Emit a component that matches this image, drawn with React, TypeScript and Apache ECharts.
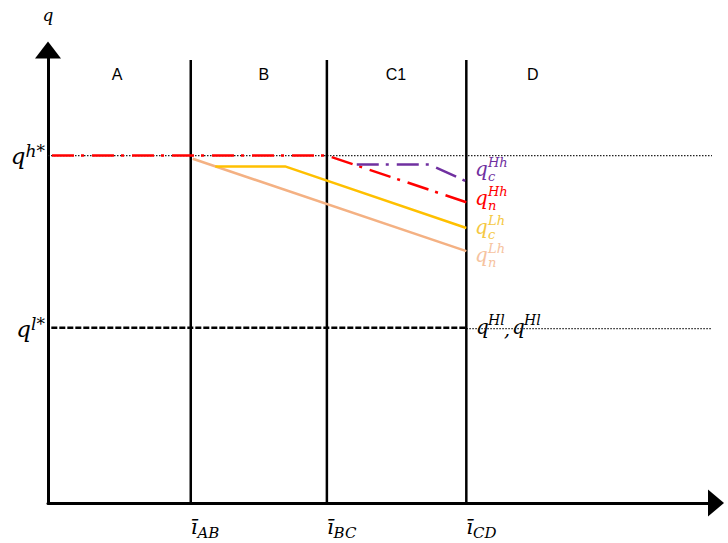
import React, { useEffect, useRef } from "react";
import * as echarts from "echarts";

// Notional data units: x 0..100, y 0..100
const xTicks = [21.5, 42, 63];
const xTickSubs = ["AB", "BC", "CD"];
const yTicks = [76.7, 38.5];
const yTickSups = ["h*", "l*"];
const regionNames = ["A", "B", "C1", "D"];
const regionX = [10.4, 32.5, 52.4, 73.0];
const regionY = 94.5;
const boundaryTop = 97.8;

const qnHh = [[0.6, 76.7], [42, 76.7], [63, 66.4]];
const qcHh = [[46.5, 74.7], [57.5, 74.7], [63, 71.0]];
const qcLh = [[25.2, 74.3], [35.7, 74.3], [63, 60.7]];
const qnLh = [[21.8, 76.0], [63, 55.6]];
const qHl = [[0.5, 38.7], [63, 38.7]];
const refHigh = [[0, 76.7], [100, 76.7]];
const refLow = [[63, 38.5], [100, 38.5]];

const rightLabels = [
  { sup: "Hh", sub: "c", color: "#7030a0" },
  { sup: "Hh", sub: "n", color: "#ff0000" },
  { sup: "Lh", sub: "c", color: "#f5c842" },
  { sup: "Lh", sub: "n", color: "#f6c3a0" },
];

const SERIF = '"DejaVu Serif", serif';
const font = (s: number) => `italic ${s}px ${SERIF}`;

function txt(x: number, y: number, text: string, size: number, color: string) {
  return {
    type: "text",
    x,
    y,
    silent: true,
    style: { text, font: font(size), fill: color, align: "left", verticalAlign: "middle" },
  };
}

function buildGraphics(toPx: (p: number[]) => number[]) {
  const els: any[] = [];
  const qy = [169, 198, 227, 255];
  rightLabels.forEach((l, i) => {
    els.push(txt(475, qy[i], "q", 20, l.color));
    els.push(txt(488, qy[i] - 7, l.sup, 13, l.color));
    els.push(txt(488, qy[i] + 7, l.sub, 13, l.color));
  });
  els.push(txt(476, 326.5, "q", 20, "#000"));
  els.push(txt(488, 320, "Hl", 14, "#000"));
  els.push(txt(504, 329, ",", 19, "#000"));
  els.push(txt(512, 326.5, "q", 20, "#000"));
  els.push(txt(524, 320, "Hl", 14, "#000"));
  regionNames.forEach((n, i) => {
    const [px, py] = toPx([regionX[i], regionY]);
    els.push({
      type: "text",
      x: px,
      y: py,
      silent: true,
      style: {
        text: n,
        font: '16px "Liberation Sans", Arial, sans-serif',
        fill: "#000",
        align: "center",
        verticalAlign: "middle",
      },
    });
  });
  return els;
}

function lineSeries(name: string, data: number[][], color: string, width: number, type: any, z: number) {
  return {
    name,
    type: "line",
    data,
    showSymbol: false,
    symbol: "none",
    silent: true,
    z,
    lineStyle: { color, width, type },
  };
}

export default function App() {
  const ref = useRef<HTMLDivElement>(null);
  useEffect(() => {
    if (!ref.current) return;
    const chart = echarts.init(ref.current, undefined, { renderer: "svg" });
    const boundaries = xTicks.map((x, i) =>
      lineSeries("b" + i, [[x, 0], [x, boundaryTop]], "#000", 2.5, "solid", 3)
    );
    chart.setOption({
      animation: false,
      grid: { left: 48, right: 16, top: 50, bottom: 38 },
      xAxis: {
        type: "value",
        min: 0,
        max: 100,
        splitLine: { show: false },
        axisTick: { show: false },
        axisLine: {
          show: true,
          lineStyle: { color: "#000", width: 3 },
          symbol: ["none", "triangle"],
          symbolSize: [27, 16],
          symbolOffset: [0, 4],
        },
        axisLabel: {
          show: true,
          customValues: xTicks,
          align: "left",
          margin: 13,
          formatter: (v: number) => {
            const i = xTicks.indexOf(v);
            return `{i|ī}{s|${xTickSubs[i] ?? ""}}`;
          },
          rich: {
            i: {
              fontFamily: SERIF,
              fontStyle: "italic",
              fontSize: 21,
              lineHeight: 24,
              padding: [0, 0, 6, 0],
              verticalAlign: "top",
              color: "#000",
            },
            s: {
              fontFamily: SERIF,
              fontStyle: "italic",
              fontSize: 15,
              lineHeight: 16,
              verticalAlign: "bottom",
              color: "#000",
            },
          },
        },
      },
      yAxis: {
        type: "value",
        min: 0,
        max: 100,
        name: "q",
        nameLocation: "end",
        nameGap: 27,
        nameTextStyle: { fontFamily: SERIF, fontStyle: "italic", fontSize: 17, color: "#000" },
        splitLine: { show: false },
        axisTick: { show: false },
        axisLine: {
          show: true,
          lineStyle: { color: "#000", width: 3 },
          symbol: ["none", "triangle"],
          symbolSize: [26, 17],
        },
        axisLabel: {
          show: true,
          customValues: yTicks,
          margin: 3,
          formatter: (v: number) => {
            const i = yTicks.indexOf(v);
            return `{q|q}{s|${yTickSups[i] ?? ""}}`;
          },
          rich: {
            q: {
              fontFamily: SERIF,
              fontStyle: "italic",
              fontSize: 23,
              lineHeight: 26,
              verticalAlign: "middle",
              color: "#000",
            },
            s: {
              fontFamily: SERIF,
              fontStyle: "italic",
              fontSize: 17,
              lineHeight: 17,
              verticalAlign: "top",
              color: "#000",
            },
          },
        },
      },
      series: [
        lineSeries("refHigh", refHigh, "#222", 1.2, [1.5, 1.5], 1),
        lineSeries("refLow", refLow, "#222", 1.2, [1.5, 1.5], 1),
        ...boundaries,
        lineSeries("qnLh", qnLh, "#f4b183", 2.5, "solid", 4),
        lineSeries("qcLh", qcLh, "#ffc000", 2.5, "solid", 5),
        lineSeries("qnHh", qnHh, "#ff0000", 2.5, [22, 7, 3, 8], 6),
        lineSeries("qcHh", qcHh, "#7030a0", 2.5, [22, 7, 3, 8], 6),
        lineSeries("qHl", qHl, "#000", 2.5, [6, 2], 6),
      ],
    });
    const toPx = (p: number[]) => chart.convertToPixel({ gridIndex: 0 }, p) as number[];
    chart.setOption({ graphic: buildGraphics(toPx) });
    return () => chart.dispose();
  }, []);
  return (
    <div
      ref={ref}
      style={{ position: "fixed", left: 0, top: 0, width: 728, height: 543, background: "#fff" }}
    />
  );
}
